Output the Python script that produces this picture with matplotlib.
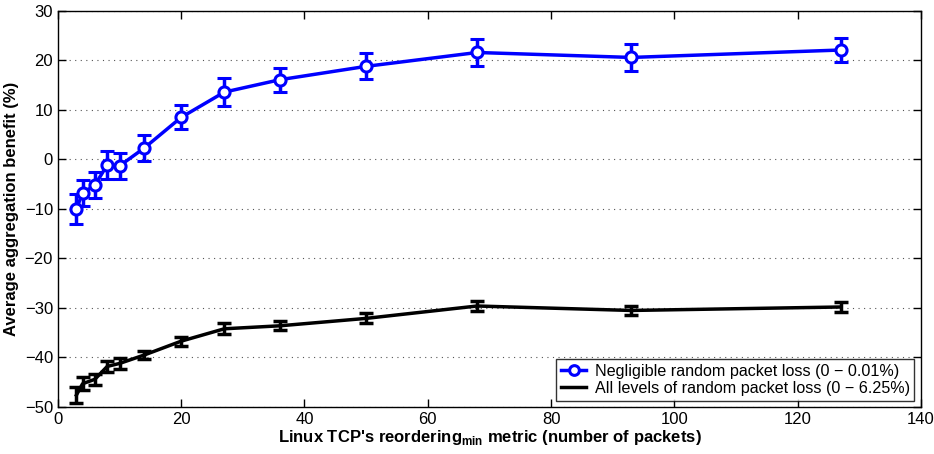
import matplotlib
matplotlib.use("Agg")
import matplotlib.pyplot as plt
from matplotlib.lines import Line2D

plt.rcParams['font.family'] = ['Liberation Sans', 'DejaVu Sans']
plt.rcParams['mathtext.fontset'] = 'custom'
plt.rcParams['mathtext.rm'] = 'Liberation Sans'
plt.rcParams['mathtext.bf'] = 'Liberation Sans:bold'

reordering = [3, 4, 6, 8, 10, 14, 20, 27, 36, 50, 68, 93, 127]
negligible_mean = [-10.0, -6.8, -5.2, -1.1, -1.3, 2.3, 8.5, 13.6, 16.1, 18.8, 21.6, 20.6, 22.1]
negligible_err = [3.1, 2.6, 2.6, 2.8, 2.7, 2.6, 2.4, 2.8, 2.4, 2.6, 2.7, 2.8, 2.5]
all_mean = [-47.6, -45.3, -44.4, -41.8, -41.2, -39.5, -36.7, -34.2, -33.6, -32.1, -29.6, -30.5, -29.8]
all_err = [1.6, 1.3, 1.1, 1.1, 1.1, 0.9, 0.9, 1.1, 0.9, 1.0, 1.0, 1.0, 1.0]

labels = ['Negligible random packet loss (0 \u2212 0.01%)',
          'All levels of random packet loss (0 \u2212 6.25%)']
xticks = [0, 20, 40, 60, 80, 100, 120, 140]
yticks = [-50, -40, -30, -20, -10, 0, 10, 20, 30]

fig = plt.figure(figsize=(9.34, 4.54), dpi=100)
ax = fig.add_axes([0.062, 0.1035, 0.924, 0.8725])

ax.errorbar(reordering, negligible_mean, yerr=negligible_err, color='#0000ff',
            lw=2.5, marker='o', ms=8, mfc='white', mec='#0000ff', mew=2.2,
            capsize=5, capthick=2.5, elinewidth=2.5, zorder=3)
ax.errorbar(reordering, all_mean, yerr=all_err, color='black',
            lw=2.5, capsize=5, capthick=2.5, elinewidth=2.5, zorder=3)

ax.set_xlim(0, 140)
ax.set_ylim(-50, 30)
ax.set_xticks(xticks)
ax.set_yticks(yticks)
ax.tick_params(direction='in', top=True, right=True, labelsize=12, length=6, width=1)
ax.yaxis.grid(True, linestyle=(0, (1, 4)), color='#555555', linewidth=0.8)
ax.set_axisbelow(True)
for s in ax.spines.values():
    s.set_linewidth(1)

ax.set_xlabel(r"Linux TCP's reordering$_{\mathbf{min}}$ metric (number of packets)",
              fontsize=12, fontweight='bold', labelpad=1)
ax.set_ylabel('Average aggregation benefit (%)', fontsize=12, fontweight='bold', labelpad=4)

handles = [Line2D([], [], color='#0000ff', lw=2.5, marker='o', ms=7, mfc='white',
                  mec='#0000ff', mew=2.2),
           Line2D([], [], color='black', lw=2.5)]
leg = ax.legend(handles, labels, loc='lower right', fontsize=11.6, frameon=True,
                fancybox=False, edgecolor='black', borderpad=0.3, handlelength=1.6,
                handletextpad=0.5, labelspacing=0.12, borderaxespad=0.4)
leg.get_frame().set_linewidth(1)

fig.savefig('out.png', dpi=100)
